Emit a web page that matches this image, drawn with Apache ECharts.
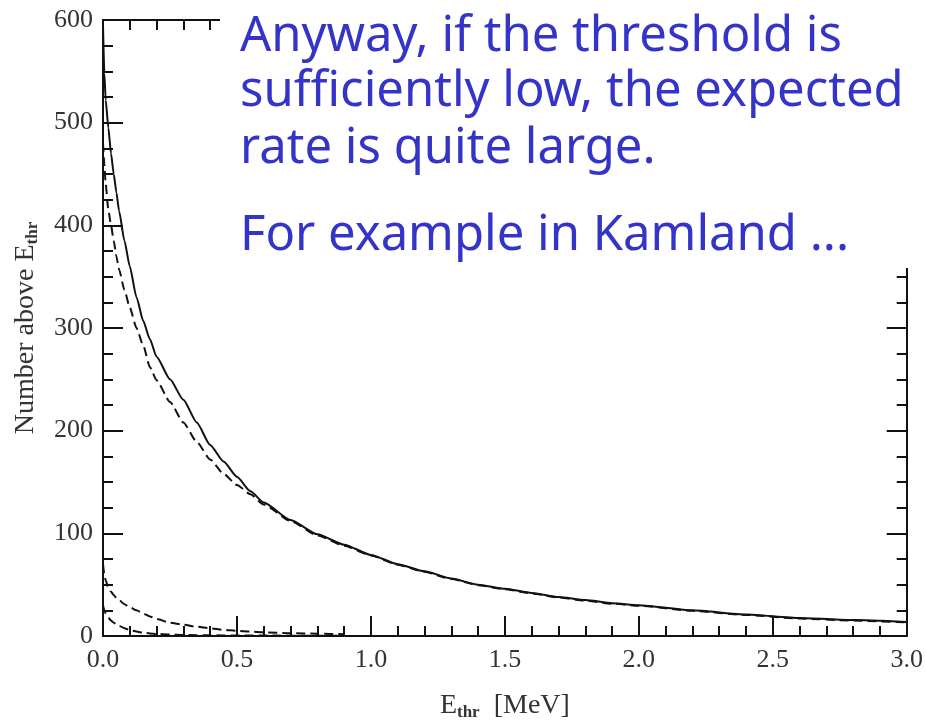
<!DOCTYPE html>
<html>
<head>
<meta charset="utf-8">
<script src="https://cdn.jsdelivr.net/npm/echarts@6/dist/echarts.min.js"></script>
<style>
  html, body { margin: 0; padding: 0; background: #fff; }
  #chart { width: 926px; height: 726px; }
</style>
</head>
<body>
<div id="chart"></div>
<script>
// threshold energies [MeV]
var energy = [0, 0.005, 0.01, 0.02, 0.03, 0.04, 0.05, 0.06, 0.08, 0.1, 0.125, 0.15, 0.175, 0.2,
  0.25, 0.3, 0.35, 0.4, 0.45, 0.5, 0.55, 0.6, 0.7, 0.8, 0.9, 1.0, 1.1, 1.2, 1.3, 1.4, 1.5,
  1.6, 1.7, 1.8, 1.9, 2.0, 2.2, 2.4, 2.6, 2.8, 3.0];

// events above threshold
var total = [595, 548, 522, 495, 470, 450, 432, 414, 385, 360, 330, 307, 289, 272,
  250, 230, 208, 186, 170, 155, 141, 130, 113, 99, 89, 79, 70, 63, 56, 50, 46,
  42, 38, 35, 32, 30, 25, 21, 17.5, 15.5, 13.6];
var partA = [480, 460, 440, 415, 400, 385, 370, 357, 337, 320, 300, 283, 262, 249,
  228, 208, 189, 172, 158, 147, 138, 128, 112, 98, 88, 78.5, 69.5, 62.5, 55.5, 49.5, 45.5,
  41.5, 37.5, 34.5, 31.5, 29.5, 24.5, 20.5, 17, 15, 13.2];
var partB = [70, 60, 54, 47, 43, 40, 37, 35, 31, 28, 25, 22, 19, 16.5,
  13, 11, 9, 7.5, 6, 5, 4.3, 3.6, 2.8, 2.2, 1.7];
var partC = [30, 25, 22, 18, 15, 13, 11.5, 10, 7.5, 5.8, 4.3, 3.2, 2.5, 2,
  1.4, 1, 0.8, 0.7, 0.6, 0.5, 0.45, 0.4, 0.35, 0.3, 0.3];

var xTicks = ['0.0', '0.5', '1.0', '1.5', '2.0', '2.5', '3.0'];

var noteLines = [
  'Anyway, if the threshold is',
  'sufficiently low, the expected',
  'rate is quite large.',
  'For example in Kamland ...'
];

function pairs(vals) {
  return vals.map(function (v, i) { return [energy[i], v]; });
}

var serif = '"Liberation Serif", "Times New Roman", serif';
var black = '#111';

var axisCommon = {
  axisLine: { show: true, onZero: false, lineStyle: { color: black, width: 2 } },
  axisTick: { show: true, inside: true, length: 20, lineStyle: { color: black, width: 2 } },
  minorTick: { show: true, length: 10, lineStyle: { color: black, width: 2 } },
  splitLine: { show: false }
};

function xAxisOpt(pos, labels) {
  return Object.assign({
    type: 'value', position: pos, min: 0, max: 3, interval: 0.5,
    axisLabel: {
      show: labels, margin: 11, color: '#333', fontFamily: serif, fontSize: 26,
      formatter: function (v) { return xTicks[Math.round(v * 2)]; }
    }
  }, axisCommon, { minorTick: Object.assign({}, axisCommon.minorTick, { splitNumber: 5 }) });
}

function yAxisOpt(pos, labels) {
  return Object.assign({
    type: 'value', position: pos, min: 0, max: 600, interval: 100,
    axisLabel: { show: labels, margin: 10, color: '#333', fontFamily: serif, fontSize: 26 }
  }, axisCommon, { minorTick: Object.assign({}, axisCommon.minorTick, { splitNumber: 4 }) });
}

var nameStyle = {
  color: '#333', fontFamily: serif, fontSize: 28,
  rich: { sub: { fontFamily: serif, fontSize: 17, fontWeight: 'bold', verticalAlign: 'bottom', padding: [14, 0, 0, 0] } }
};

var xb = xAxisOpt('bottom', true);
xb.name = 'E{sub|thr}  [MeV]';
xb.nameLocation = 'middle';
xb.nameGap = 54;
xb.nameTextStyle = nameStyle;
var yl = yAxisOpt('left', true);
yl.name = 'Number above E{sub|thr}';
yl.nameLocation = 'middle';
yl.nameGap = 62;
yl.nameTextStyle = nameStyle;

function curve(name, vals, dashed) {
  return {
    name: name, type: 'line', data: pairs(vals),
    showSymbol: false, smooth: 0.2, smoothMonotone: 'x',
    lineStyle: { color: black, width: 2, type: dashed ? [9, 5] : 'solid' },
    z: 3
  };
}

var noteFont = '49px "Noto Sans", sans-serif';
var noteY = [37, 92, 149, 236];

var graphics = [{
  type: 'rect', left: 220, top: 0, z: 100,
  shape: { width: 706, height: 268 },
  style: { fill: '#fff' }
}];
noteLines.forEach(function (t, i) {
  graphics.push({
    type: 'text', x: 240, y: noteY[i], z: 101,
    style: { text: t, font: noteFont, fill: '#3434c8', verticalAlign: 'middle' }
  });
});

var myChart = echarts.init(document.getElementById('chart'), null, { renderer: 'canvas' });
myChart.setOption({
  backgroundColor: '#fff',
  animation: false,
  grid: { left: 103, right: 19, top: 20, bottom: 88, containLabel: false },
  xAxis: [xb, xAxisOpt('top', false)],
  yAxis: [yl, yAxisOpt('right', false)],
  series: [
    curve('total', total, false),
    curve('part A', partA, true),
    curve('part B', partB, true),
    curve('part C', partC, true)
  ],
  graphic: graphics
});
</script>
</body>
</html>
